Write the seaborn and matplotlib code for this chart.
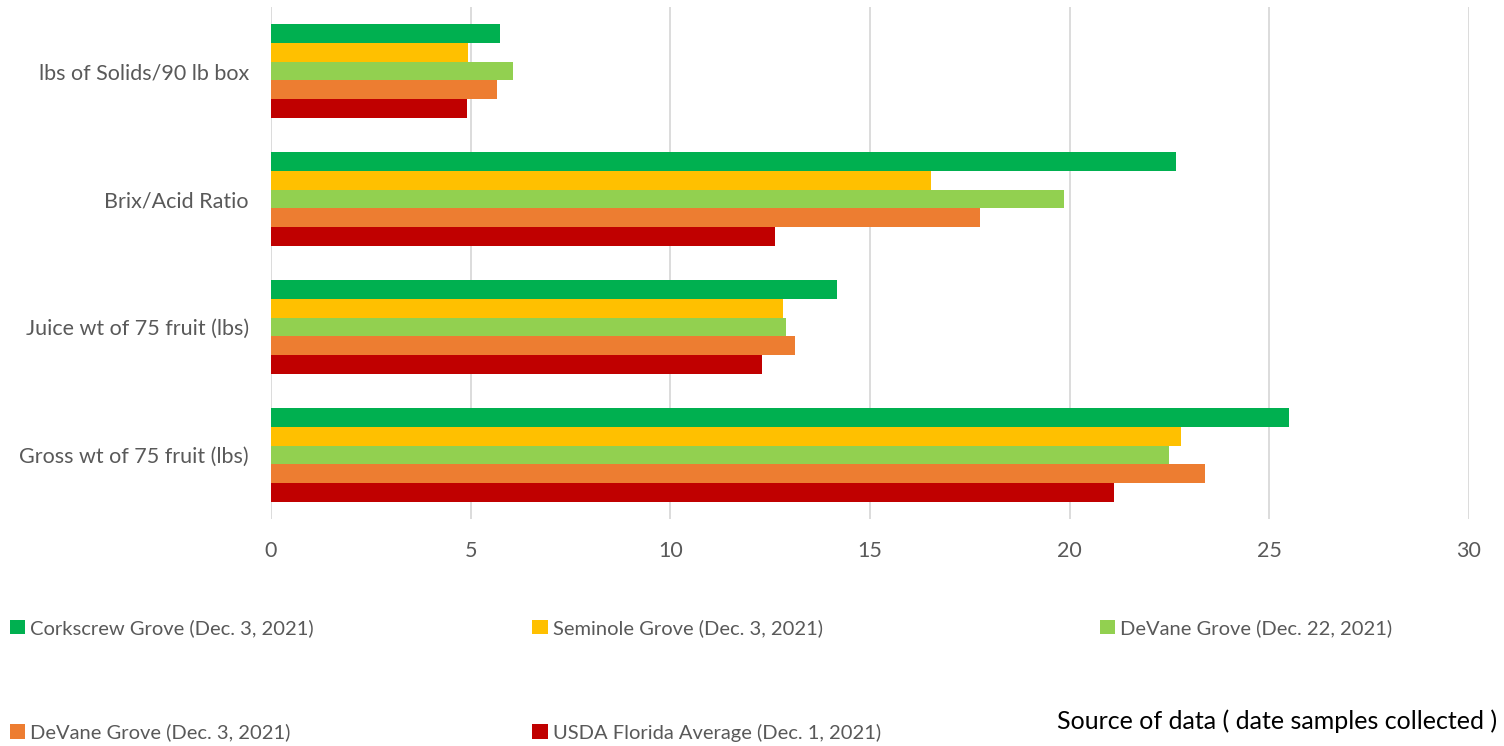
import pandas as pd
import numpy as np
import matplotlib.pyplot as plt
import seaborn as sns

# categories (top to bottom) and the five sample sources
measures = ["lbs of Solids/90 lb box", "Brix/Acid Ratio",
            "Juice wt of 75 fruit (lbs)", "Gross wt of 75 fruit (lbs)"]
sources = ["Corkscrew Grove (Dec. 3, 2021)", "Seminole Grove (Dec. 3, 2021)",
           "DeVane Grove (Dec. 22, 2021)", "DeVane Grove (Dec. 3, 2021)",
           "USDA Florida Average (Dec. 1, 2021)"]
colors = ["#00B050", "#FFC000", "#92D050", "#ED7D31", "#C00000"]

# values, one list per source (same order as measures)
corkscrew = [5.74, 22.66, 14.18, 25.50]
seminole = [4.94, 16.53, 12.82, 22.80]
devane_dec22 = [6.06, 19.86, 12.89, 22.50]
devane_dec3 = [5.65, 17.75, 13.12, 23.39]
usda = [4.90, 12.61, 12.30, 21.10]

rows = []
for src, vals in zip(sources, [corkscrew, seminole, devane_dec22, devane_dec3, usda]):
    for m, v in zip(measures, vals):
        rows.append({"measure": m, "source": src, "value": v})
df = pd.DataFrame(rows)

sns.set_style("white")
plt.rcParams["font.family"] = ["Lato", "DejaVu Sans"]

fig = plt.figure(figsize=(15.04, 7.46), dpi=100)
ax = fig.add_axes([0.1802, 0.3043, 0.7965, 0.6863])

sns.barplot(data=df, y="measure", x="value", hue="source", order=measures,
            hue_order=sources, palette=colors, orient="h", width=0.73,
            saturation=1, linewidth=0, ax=ax, legend=True)

ax.set_xlim(0, 30)
ax.set_ylim(3.5, -0.5)
ax.set_xticks(np.arange(0, 31, 5))
ax.xaxis.grid(True, color="#D9D9D9", linewidth=1.3)
ax.set_axisbelow(True)
for s in ax.spines.values():
    s.set_visible(False)
ax.tick_params(axis="both", length=0, labelsize=15.5, labelcolor="#595959")
ax.tick_params(axis="x", pad=16)
ax.tick_params(axis="y", pad=16)
ax.set_xlabel("")
ax.set_ylabel("")

# legend in row-major order across 3 columns
handles, labels = ax.get_legend_handles_labels()
ax.get_legend().remove()
order = [0, 3, 1, 4, 2]
fig.legend([handles[i] for i in order], [labels[i] for i in order],
           ncol=3, loc="upper left", bbox_to_anchor=(0.001, 0.181, 0.93, 0.0),
           mode="expand", frameon=False, fontsize=14.5, labelcolor="#595959",
           handlelength=0.75, handleheight=0.75, handletextpad=0.25,
           labelspacing=4.3, borderaxespad=0)

fig.text(0.703, 0.033, "Source of data ( date samples collected )",
         fontsize=18, color="black", ha="left", va="center")

fig.savefig("out.png", dpi=100)
